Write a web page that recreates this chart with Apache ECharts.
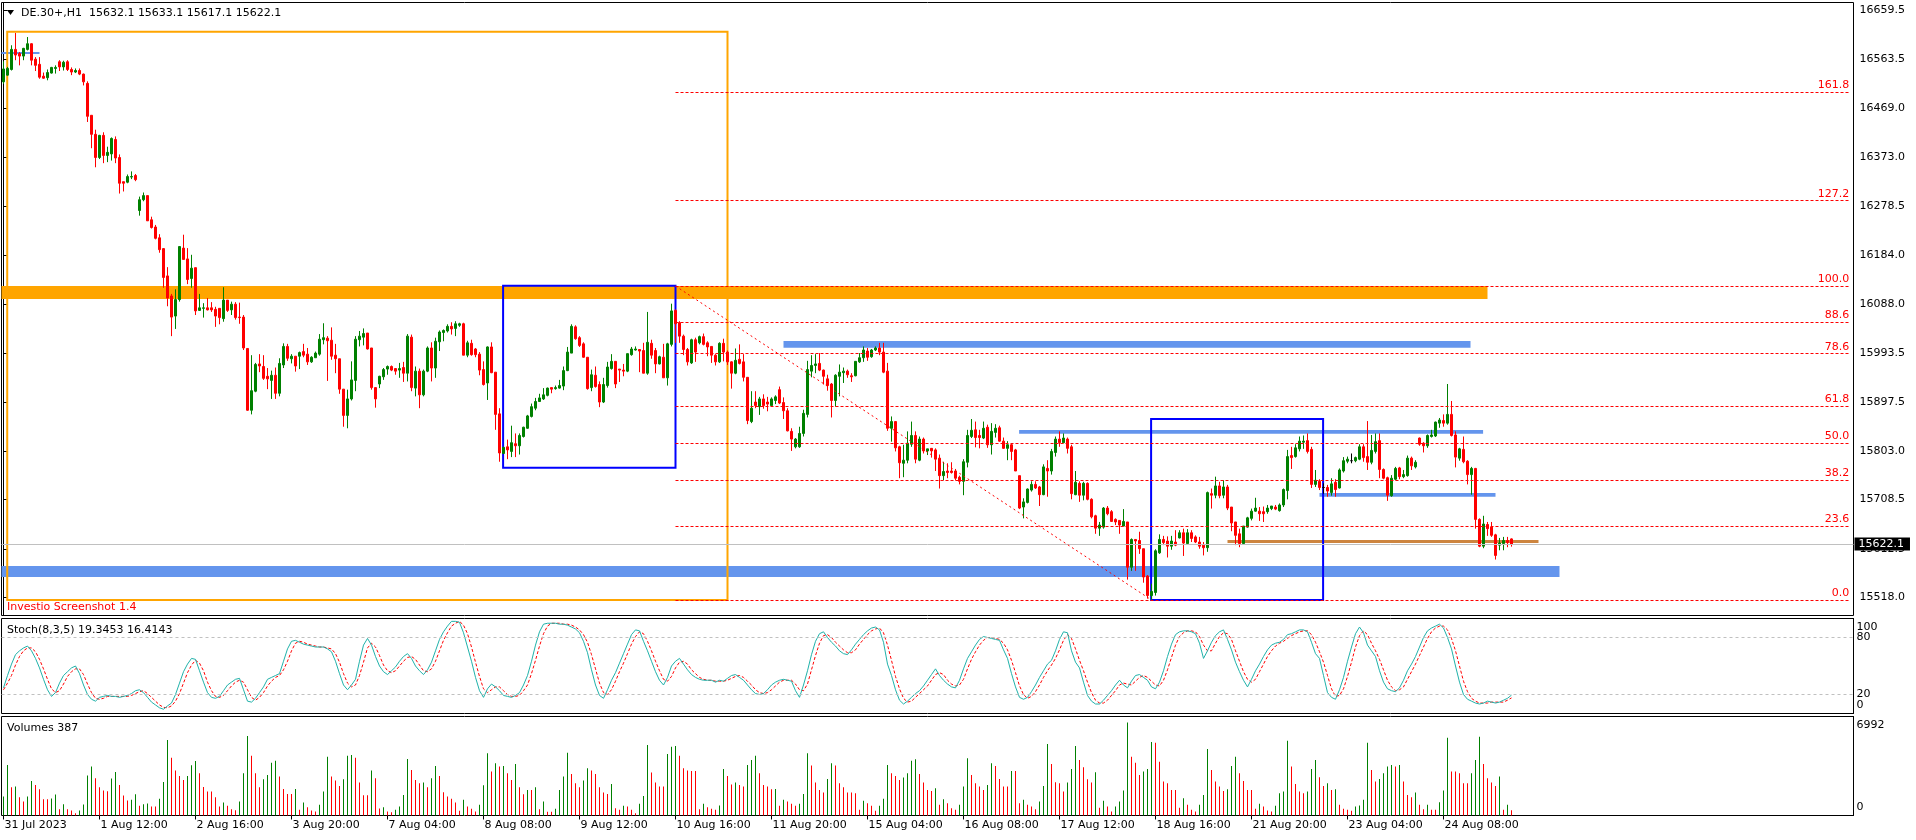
<!DOCTYPE html>
<html><head><meta charset="utf-8">
<script src="https://cdn.jsdelivr.net/npm/echarts@6/dist/echarts.min.js"></script>
<style>html,body{margin:0;padding:0;background:#fff}#c{width:1916px;height:840px}</style>
</head><body><div id="c"></div><script>
// ---- data: [open, close, low, high]
const candles = [
[16520,16545,16516,16560],[16533,16546,16532,16549],[16544,16583,16542,16591],[16583,16572,16562,16615],[16575,16570,16552,16578],
[16570,16585,16562,16586],[16583,16594,16581,16607],[16594,16562,16552,16595],[16564,16552,16541,16568],[16554,16529,16526,16568],
[16531,16527,16526,16538],[16528,16538,16523,16544],[16537,16548,16536,16549],[16546,16548,16536,16552],[16559,16549,16541,16562],
[16549,16558,16542,16561],[16559,16544,16541,16562],[16544,16539,16533,16548],[16539,16542,16537,16546],[16542,16535,16533,16546],
[16535,16520,16513,16536],[16517,16453,16442,16521],[16455,16418,16391,16455],[16418,16373,16354,16427],[16373,16416,16370,16417],
[16416,16377,16362,16422],[16377,16383,16364,16394],[16380,16410,16367,16412],[16408,16372,16362,16414],[16373,16323,16303,16379],
[16326,16323,16307,16326],[16325,16336,16323,16340],[16335,16336,16331,16346],[16338,16330,16327,16341],[16270,16291,16260,16297],
[16291,16299,16288,16305],[16299,16250,16250,16299],[16252,16237,16235,16258],[16238,16216,16214,16242],[16217,16194,16188,16224],
[16196,16140,16120,16197],[16143,16100,16084,16160],[16104,16063,16026,16108],[16065,16097,16040,16117],[16097,16200,16093,16201],
[16197,16175,16175,16223],[16176,16136,16127,16197],[16138,16158,16120,16184],[16159,16075,16067,16159],[16076,16081,16075,16108],
[16080,16081,16062,16090],[16081,16077,16076,16100],[16081,16077,16073,16092],[16078,16065,16044,16083],[16080,16062,16049,16080],
[16060,16096,16054,16121],[16096,16076,16073,16096],[16077,16088,16067,16093],[16088,16062,16058,16092],[16063,16062,16050,16091],
[16063,16003,15999,16067],[16002,15882,15881,16002],[15882,15920,15874,15989],[15919,15971,15917,15974],[15972,15968,15956,15991],
[15967,15944,15941,15989],[15948,15943,15923,15964],[15940,15950,15904,15959],[15950,15915,15904,15965],[15915,15973,15909,15983],
[15970,16006,15964,16012],[16006,15983,15978,16011],[15982,15987,15973,15991],[15987,15968,15957,15987],[15987,15994,15962,15996],
[15996,15989,15985,16011],[15991,15976,15970,16003],[15976,15985,15974,15987],[15984,15993,15984,15996],[15991,16020,15988,16030],
[16019,16023,16010,16051],[16022,16017,15939,16026],[16018,15987,15980,16043],[15989,15982,15954,16011],[15982,15923,15914,15982],
[15923,15872,15850,15923],[15872,15904,15847,15922],[15904,15941,15901,15977],[15940,16020,15919,16026],[16019,16026,16006,16036],
[16024,16031,16008,16041],[16032,16001,16000,16032],[16003,15926,15922,16003],[15926,15904,15887,15926],[15933,15948,15925,15949],
[15947,15961,15941,15964],[15962,15967,15951,15969],[15967,15960,15958,15969],[15963,15958,15951,15964],[15960,15963,15945,15974],
[15965,15954,15937,15976],[15954,16026,15938,16030],[16024,15926,15919,16029],[15925,15958,15909,15967],[15958,15912,15886,15963],
[15912,15958,15909,15961],[15958,16003,15956,16006],[16003,15964,15938,16014],[15964,16016,15945,16023],[16015,16034,15997,16037],
[16033,16037,16016,16039],[16036,16045,16033,16049],[16045,16040,16029,16053],[16041,16050,16026,16055],[16047,16050,16044,16052],
[16050,15989,15989,16052],[15989,16013,15985,16017],[16012,15990,15988,16019],[16001,15990,15985,16003],[15991,15960,15950,15995],
[15961,15932,15930,15977],[15935,16005,15902,16006],[16005,15955,15954,16014],[15956,15874,15844,15956],[15875,15799,15782,15886],
[15798,15810,15797,15811],[15811,15805,15787,15825],[15802,15819,15791,15852],[15817,15813,15791,15837],[15813,15833,15796,15837],
[15831,15849,15829,15850],[15847,15871,15846,15873],[15870,15889,15868,15895],[15886,15899,15882,15906],[15899,15906,15898,15914],
[15904,15912,15902,15925],[15911,15925,15909,15926],[15926,15923,15915,15926],[15924,15926,15922,15930],[15925,15930,15924,15941],
[15929,15959,15921,15967],[15959,15995,15958,16005],[15993,16045,15993,16049],[16044,16021,16019,16047],[16023,16008,16005,16026],
[16011,15985,15984,16014],[15985,15924,15922,15985],[15926,15951,15919,15961],[15950,15928,15926,15967],[15932,15898,15888,15938],
[15898,15932,15896,15945],[15930,15966,15926,15976],[15963,15977,15961,15991],[15977,15933,15925,15977],[15962,15960,15937,15962],
[15960,15958,15948,15972],[15958,15992,15956,15992],[15990,16001,15988,16005],[15999,16001,15998,16006],[16000,15997,15956,16000],
[15998,15954,15954,16013],[15954,16014,15951,16073],[16012,15989,15982,16019],[15998,15972,15954,16003],[15972,15986,15971,15988],
[15985,15945,15945,16011],[15945,16011,15930,16013],[16010,16075,16006,16089],[16076,16050,16013,16078],[16052,16026,16013,16055],
[16026,16000,15989,16029],[16000,15976,15969,16003],[15974,16019,15972,16021],[16019,15995,15976,16023],[16013,16025,16010,16027],
[16025,16010,16008,16031],[16013,16005,15987,16016],[16006,15989,15974,16006],[15989,15976,15969,15991],[15976,16012,15974,16014],
[16012,15995,15977,16021],[15995,15976,15970,15998],[15976,15954,15924,15977],[15954,15979,15952,16002],[15981,15973,15971,16010],
[15976,15946,15938,15991],[15946,15862,15855,15946],[15860,15886,15857,15919],[15898,15891,15886,15919],[15889,15904,15873,15908],
[15904,15891,15885,15913],[15898,15894,15880,15908],[15891,15904,15891,15907],[15901,15908,15894,15911],[15922,15896,15894,15928],
[15897,15881,15865,15907],[15881,15842,15841,15886],[15841,15826,15803,15847],[15811,15826,15808,15828],[15811,15837,15809,15850],
[15837,15876,15831,15883],[15874,15961,15868,15978],[15958,15969,15946,15989],[15969,15972,15954,15991],[15973,15960,15958,15993],
[15960,15948,15932,15961],[15943,15930,15920,15951],[15933,15901,15868,15935],[15901,15950,15889,15952],[15948,15956,15909,15971],
[15955,15958,15935,15965],[15958,15951,15945,15961],[15949,15947,15937,15954],[15949,15977,15948,15977],[15976,15984,15974,15993],
[15984,15999,15976,16006],[15997,15985,15978,16003],[15986,15999,15984,16001],[15999,16003,15997,16006],[16003,15995,15989,16013],
[15995,15956,15954,16013],[15958,15847,15842,15974],[15847,15860,15821,15870],[15860,15809,15802,15861],[15811,15780,15750,15813],
[15779,15785,15752,15815],[15785,15818,15779,15841],[15816,15833,15811,15860],[15833,15787,15779,15841],[15785,15826,15783,15831],
[15826,15803,15798,15829],[15803,15807,15795,15807],[15808,15803,15790,15808],[15805,15787,15764,15808],[15789,15755,15730,15796],
[15755,15763,15746,15782],[15764,15761,15750,15779],[15764,15761,15759,15781],[15764,15750,15746,15768],[15752,15744,15738,15755],
[15744,15782,15717,15787],[15781,15833,15771,15844],[15831,15843,15828,15865],[15844,15829,15810,15860],[15833,15829,15808,15844],
[15828,15847,15826,15860],[15849,15815,15809,15854],[15815,15841,15796,15857],[15839,15847,15829,15855],[15848,15822,15821,15852],
[15822,15808,15807,15829],[15808,15815,15785,15822],[15815,15802,15785,15818],[15805,15764,15764,15807],[15755,15692,15690,15755],
[15694,15704,15672,15711],[15703,15729,15701,15730],[15727,15738,15724,15744],[15738,15731,15729,15744],[15733,15718,15696,15735],
[15718,15772,15717,15777],[15769,15764,15714,15785],[15764,15802,15757,15807],[15800,15826,15792,15831],[15826,15819,15811,15841],
[15819,15828,15818,15837],[15826,15808,15798,15829],[15811,15720,15709,15815],[15718,15742,15717,15764],[15740,15717,15704,15744],
[15717,15740,15707,15743],[15740,15709,15707,15742],[15709,15675,15672,15711],[15677,15653,15642,15679],[15653,15659,15638,15665],
[15655,15692,15652,15694],[15692,15681,15678,15696],[15685,15666,15665,15688],[15670,15665,15659,15672],[15668,15659,15642,15668],
[15657,15666,15657,15690],[15665,15577,15553,15665],[15577,15631,15570,15633],[15631,15628,15570,15631],[15629,15613,15603,15646],
[15613,15558,15547,15613],[15560,15522,15516,15562],[15522,15530,15513.4,15545],[15528,15609,15522,15612],[15605,15631,15603,15641],
[15631,15625,15620,15638],[15628,15618,15596,15637],[15618,15628,15611,15638],[15626,15620,15618,15649],[15634,15644,15633,15649],
[15644,15624,15599,15652],[15623,15644,15621,15651],[15644,15633,15626,15649],[15636,15626,15624,15639],[15626,15618,15613,15636],
[15620,15615,15600,15626],[15615,15722,15607,15724],[15720,15717,15691,15730],[15717,15735,15711,15753],[15735,15716,15711,15743],
[15717,15733,15711,15746],[15733,15692,15688,15737],[15694,15663,15647,15694],[15665,15639,15620,15665],[15642,15623,15616,15652],
[15623,15657,15621,15657],[15655,15673,15654,15675],[15672,15686,15668,15691],[15686,15692,15685,15712],[15686,15681,15667,15694],
[15685,15681,15665,15695],[15685,15692,15681,15698],[15691,15696,15688,15696],[15694,15690,15688,15698],[15687,15698,15685,15701],
[15698,15728,15694,15730],[15726,15792,15709,15805],[15794,15790,15768,15811],[15792,15809,15790,15816],[15807,15822,15802,15831],
[15820,15822,15807,15833],[15823,15802,15798,15837],[15806,15738,15731,15811],[15738,15746,15733,15766],[15744,15732,15727,15748],
[15732,15732,15720,15740],[15732,15725,15714,15737],[15722,15739,15716,15750],[15742,15728,15714,15748],[15731,15766,15730,15769],
[15764,15784,15761,15791],[15783,15787,15779,15792],[15784,15784,15779,15798],[15784,15790,15781,15792],[15787,15811,15785,15816],
[15811,15790,15782,15816],[15792,15781,15766,15861],[15781,15804,15777,15834],[15802,15821,15798,15837],[15823,15767,15750,15837],
[15767,15750,15748,15769],[15751,15717,15706,15753],[15716,15750,15714,15756],[15748,15769,15746,15772],[15770,15753,15748,15772],
[15753,15757,15750,15766],[15755,15789,15753,15794],[15789,15774,15766,15792],[15772,15781,15769,15785],[15828,15816,15813,15829],
[15818,15813,15800,15820],[15813,15833,15809,15835],[15831,15834,15829,15844],[15832,15859,15830,15860],[15857,15863,15848,15867],
[15862,15857,15850,15874],[15857,15874,15854,15933],[15874,15833,15831,15900],[15834,15791,15771,15841],[15789,15807,15784,15809],
[15806,15782,15779,15831],[15783,15757,15738,15785],[15757,15769,15718,15772],[15769,15670,15652,15770],[15670,15618,15616,15672],
[15618,15661,15614,15677],[15660,15652,15638,15665],[15655,15639,15636,15665],[15640,15600,15592,15642],[15620,15624,15610,15634],
[15623,15629,15610,15636],[15629,15625,15616,15636],[15632.1,15622.1,15617.1,15633.1]
];
const stochMain = [
27,40,52,62,66,69,71,66,58,48, 36,25,18,22,32,40,44,48,50,42, 30,20,15,13,17,18,19,18,18,17, 18,19,21,24,25,22,17,12,9,6,
4.5,8,11,20,32,44,52,58,57,45, 33,22,17,16,18,24,30,33,36,37, 25,13,12,16,22,28,36,38,40,42, 55,68,76,77,75,73,72,71,70,70,
70,68,65,55,42,30,25,30,36,55, 72,79,72,60,50,44,41,45,49,55, 60,63,58,50,45,41,46,54,66,78, 86,92,97,97,96,85,70,55,38,24,
17,26,31,28,24,19,18,17,19,22, 30,40,55,72,86,94,95,95,95,94, 94,93,91,89,85,76,64,46,30,19, 16,25,35,43,53,63,73,83,88,87,
76,66,55,44,35,30,38,50,55,58, 52,46,41,38,36,35,35,35,33,35, 34,37,40,41,38,35,30,25,21,20, 21,25,30,33,35,36,35,34,24,17,
30,45,62,76,84,86,80,75,71,66, 63,62,67,73,78,83,87,90,91,88, 75,52,40,25,14,10,13,17,21,24, 29,35,41,47,40,35,31,28,27,35,
47,58,65,72,78,81,80,79,78,77, 67,58,42,28,17,15,17,23,30,38, 45,52,56,66,78,86,85,66,54,48, 33,19,13,10,10,14,19,24,30,35,
30,27,34,40,41,38,35,28,26,33, 45,60,73,83,86,87,87,86,84,74, 58,66,75,82,86,88,78,67,54,44, 35,28,36,45,52,60,67,72,74,75,
78,83,84,86,88,88,86,75,63,58, 40,22,17,15,25,38,55,70,84,91, 85,72,66,60,45,33,26,24,23,27, 35,45,52,60,70,80,87,90,92,94,
90,80,68,50,33,20,15,13,11,10, 11,13,12,11,12,14,16,19.3453
];
const stochSignal = [
25,32,40,51,60,66,69,69,65,57, 47,36,26,22,24,31,39,44,47,47, 41,31,22,16,15,16,18,18,18,18, 18,18,19,21,23,24,21,17,13,9,
6.5,6,8,13,21,32,43,51,56,53, 45,33,24,18,17,19,24,29,33,35, 33,25,17,14,17,22,29,34,38,40, 46,55,66,74,76,75,73,72,71,70,
70,69,68,63,54,42,32,28,30,40, 54,69,74,70,61,51,45,43,45,50, 55,59,60,57,51,45,44,47,55,66, 77,85,92,95,97,93,84,70,54,39,
26,22,25,28,28,24,20,18,18,19, 24,30,42,56,71,84,92,95,95,95, 94,94,93,91,88,83,75,62,47,32, 22,20,25,34,44,53,63,73,81,86,
84,76,66,55,45,36,34,39,48,54, 55,52,46,42,38,36,35,35,34,34, 34,35,37,39,40,38,34,30,25,22, 21,22,25,29,33,35,35,35,31,25,
24,31,46,61,74,82,83,80,75,71, 67,64,64,67,73,78,83,87,89,90, 85,72,56,39,26,16,12,13,17,21, 25,29,35,41,43,41,35,31,29,30,
36,47,57,65,72,77,80,80,79,78, 74,67,56,43,29,20,16,18,23,30, 38,45,51,58,67,77,83,79,68,56, 45,33,22,14,11,11,14,19,24,30,
32,31,30,34,38,40,38,34,30,29, 35,46,59,72,81,85,87,87,86,81, 72,66,66,74,81,85,84,78,66,55, 44,36,33,36,44,52,60,66,71,74,
76,79,82,84,86,87,87,83,75,65, 54,40,26,18,19,26,39,54,70,82, 87,83,74,66,57,46,35,28,24,25, 28,36,44,52,61,70,79,86,90,92,
92,88,79,66,50,34,23,16,13,11, 11,11,12,12,12,12,14,16.4143
];
const volumes = [
1425,3800,2125,2175,1375,1050,1425,2600,2300,1975, 1225,1225,1275,1575,475,850,475,375,175,375,
825,3000,3675,2800,2125,1875,1825,2775,3275,2300, 1500,1125,1175,1600,725,850,900,675,675,1250,
2525,5675,4350,3375,2975,2675,2975,3775,4100,3175, 2150,1800,1800,1375,675,975,725,475,400,1050,
3175,5975,4500,3175,2125,2725,3050,3975,4125,2925, 2000,1625,1625,2000,425,975,625,375,300,800,
1800,4425,2925,2625,2225,2725,4500,4550,4350,2475, 1525,1525,3375,2800,525,625,300,250,425,675,
1550,4250,3425,2675,2425,2475,2125,2800,3725,2975, 1750,1425,1250,975,350,1175,675,500,300,800,
2275,4675,3300,3925,3675,3725,3175,2675,3875,2125, 1600,1925,1925,2125,475,1050,275,275,500,1925,
2925,4725,3125,2425,2125,2625,3550,3375,3125,2125, 1725,1625,2375,550,425,725,675,425,175,875,
1475,5300,3225,2475,2175,2175,4625,5175,5225,4500, 3550,3375,3350,3350,475,875,625,500,425,750,
3500,2975,2325,2475,2300,2175,3800,4175,4500,3175, 2300,2175,1975,2000,725,1175,1050,875,725,875,
1625,4675,3750,2475,1925,1725,2750,3925,3750,2425, 2125,1725,1725,1675,425,1100,925,725,350,725,
1250,3800,3175,2975,2675,2850,3175,4125,4225,3125, 2475,1925,1850,2050,800,1225,925,550,425,800,
2175,4300,3050,2425,2175,1925,2300,3925,3725,2750, 2175,2175,3350,3350,925,1175,800,675,475,1050,
2225,5375,3875,2500,2425,1800,2475,3500,5225,4175, 3625,2725,2475,3250,575,1100,675,300,675,1050,
1875,6992,4425,3975,3050,3300,3500,5525,5475,4050, 2550,2425,1925,1925,575,1300,800,425,300,800,
1550,5000,3425,2550,2175,1850,1975,3725,4425,3175, 2600,1925,1925,500,875,675,375,300,725,1675,
1800,5625,3675,2375,1800,1675,1800,3500,4175,2875, 2225,2425,1925,1975,800,500,425,350,675,750,
1175,5475,3425,2550,2750,3175,3675,3800,3675,3800, 2550,1550,1375,1725,800,475,800,425,425,1000,
1875,5850,3300,3300,3175,2425,2425,3175,4175,5925, 3875,2800,2475,2225,2925,425,800,387
];
const xLabels = ["31 Jul 2023","1 Aug 12:00","2 Aug 16:00","3 Aug 20:00","7 Aug 04:00","8 Aug 08:00","9 Aug 12:00","10 Aug 16:00","11 Aug 20:00","15 Aug 04:00","16 Aug 08:00","17 Aug 12:00","18 Aug 16:00","21 Aug 20:00","23 Aug 04:00","24 Aug 08:00"];
const priceTicks = [16659.5,16563.5,16469.0,16373.0,16278.5,16184.0,16088.0,15993.5,15897.5,15803.0,15708.5,15612.5,15518.0];
const stochLevels = [20, 80];
const stochEnds = [0, 100];
const volumeMax = 6992;
const lastPrice = 15622.1;
const fibRatios = [0,23.6,38.2,50,61.8,78.6,88.6,100,127.2,161.8];
const fibLow = 15513.4, fibHigh = 16123.4;

// ---- drawn objects (bar index, price)
const filledBands = [
  [-0.5, 371, 16123.4, 16098.1, '#FFA500'],
  [195, 366.75, 16016.5, 16003.5, '#6495ED'],
  [253.9, 369.9, 15843.7, 15836.5, '#6495ED'],
  [329, 373, 15721.3, 15714.1, '#6495ED'],
  [306, 383.75, 15629.9, 15624.1, '#CD853F'],
  [-0.5, 389, 15579.4, 15558.0, '#6495ED'],
  [-0.5, 9, 16578, 16574, '#6495ED']
];
const boxes = [
  [0.93, 181, 16617.3, 15513.4, '#FFA500'],
  [124.9, 168, 16124, 15770.4, '#0000FF'],
  [286.9, 329.9, 15865, 15513.4, '#0000FF']
];
const fibStart = 168, fibEnd = 461.7;
const trend = [[168, 16123.4], [287, 15513.4]];

const N = 463;
const cats = Array.from({length: N}, (_, i) => i);
const FONT = 'DejaVu Sans';
const GREEN = '#008000', RED = '#FF0000';
const labelShown = i => i % 24 === 0 && i / 24 < xLabels.length;
const VOL_TOP = 7443;

const chart = echarts.init(document.getElementById('c'), null, {renderer: 'canvas', width: 1916, height: 840});

const fibPrice = r => fibLow + (fibHigh - fibLow) * r / 100;
const fibLines = fibRatios.map(r => [
  {coord: [fibStart, fibPrice(r)], label: {show: true, formatter: r.toFixed(1)}},
  {coord: [fibEnd, fibPrice(r)]}
]);

const txt = {fontFamily: FONT, fontSize: 11, color: '#000'};
const edgeRich = {
  t: {padding: [17, 0, 0, 0], fontFamily: FONT, fontSize: 11, color: '#000'},
  b: {padding: [0, 0, 16, 0], fontFamily: FONT, fontSize: 11, color: '#000'}
};

chart.setOption({
  animation: false,
  backgroundColor: '#fff',
  grid: [
    {left: 1.5, top: 2.5, width: 1852, height: 613, show: true, borderColor: '#000', borderWidth: 1},
    {left: 1.5, top: 618.5, width: 1852, height: 95, show: true, borderColor: '#000', borderWidth: 1},
    {left: 1.5, top: 716.5, width: 1852, height: 99, show: true, borderColor: '#000', borderWidth: 1}
  ],
  xAxis: [
    {type: 'category', gridIndex: 0, data: cats, show: false},
    {type: 'category', gridIndex: 1, data: cats, show: false},
    {type: 'category', gridIndex: 2, data: cats,
      axisLine: {show: false},
      axisTick: {show: true, alignWithLabel: true, interval: labelShown, length: 4, lineStyle: {color: '#000'}},
      axisLabel: Object.assign({interval: labelShown, formatter: (v, i) => xLabels[i / 24] || '', align: 'left', margin: 4, padding: [0, 0, 0, 1]}, txt),
      splitLine: {show: false}},
    {type: 'value', gridIndex: 0, min: -0.5, max: N - 0.5, show: false}
  ],
  yAxis: [
    {type: 'value', gridIndex: 0, position: 'right', min: 15483.3, max: 16674.1,
      axisLine: {show: true, lineStyle: {color: '#000'}},
      axisTick: {show: true, customValues: priceTicks, length: 4, lineStyle: {color: '#000'}},
      axisLabel: Object.assign({customValues: priceTicks, formatter: v => v.toFixed(1), margin: 6, showMinLabel: true, showMaxLabel: true, hideOverlap: false}, txt),
      splitLine: {show: false}},
    {type: 'value', gridIndex: 1, position: 'right', min: 0, max: 100,
      axisLine: {show: true, lineStyle: {color: '#000'}},
      axisTick: {show: false},
      axisLabel: Object.assign({customValues: stochLevels, margin: 3, hideOverlap: false}, txt),
      splitLine: {show: false}},
    {type: 'value', gridIndex: 2, position: 'right', min: 0, max: VOL_TOP,
      axisLine: {show: true, lineStyle: {color: '#000'}},
      axisTick: {show: false},
      axisLabel: Object.assign({customValues: [0, VOL_TOP], margin: 3, showMinLabel: true, showMaxLabel: true, hideOverlap: false,
        formatter: v => v === 0 ? '{b|0}' : '{t|' + volumeMax + '}', rich: edgeRich}, txt),
      splitLine: {show: false}},
    {type: 'value', gridIndex: 1, position: 'right', min: 0, max: 100,
      axisLine: {show: false}, axisTick: {show: false},
      axisLabel: Object.assign({customValues: stochEnds, margin: 3, showMinLabel: true, showMaxLabel: true, hideOverlap: false,
        formatter: v => v === 100 ? '{t|100}' : '{b|0}', rich: edgeRich}, txt),
      splitLine: {show: false}}
  ],
  series: [
    {
      type: 'line', xAxisIndex: 3, yAxisIndex: 0, z: 1, silent: true,
      data: [[-20, lastPrice]], symbol: 'none', lineStyle: {width: 0},
      markArea: {silent: true, label: {show: false},
        data: filledBands.map(b => [{coord: [b[0], b[2]], itemStyle: {color: b[4], opacity: 1, borderWidth: 0}}, {coord: [b[1], b[3]]}])},
      markLine: {silent: true, symbol: ['none', 'none'], animation: false,
        lineStyle: {color: '#C0C0C0', type: 'solid', width: 1},
        label: {show: true, position: 'end', distance: 1, formatter: lastPrice.toFixed(1), backgroundColor: '#000', color: '#fff', padding: [1, 6, 0, 4], lineHeight: 12, fontFamily: FONT, fontSize: 11},
        data: [{yAxis: lastPrice}]}
    },
    {
      type: 'candlestick', xAxisIndex: 0, yAxisIndex: 0, z: 2, barWidth: 2,
      data: candles,
      itemStyle: {color: GREEN, color0: RED, borderColor: GREEN, borderColor0: RED, borderColorDoji: '#000', borderWidth: 1}
    },
    {
      type: 'line', xAxisIndex: 3, yAxisIndex: 0, z: 3, silent: true,
      data: [[-20, lastPrice]], symbol: 'none', lineStyle: {width: 0},
      markArea: {silent: true, label: {show: false},
        data: boxes.map(b => [{coord: [b[0], b[2]], itemStyle: {color: 'rgba(0,0,0,0)', borderColor: b[4], borderWidth: 2}}, {coord: [b[1], b[3]]}])},
      markLine: {silent: true, symbol: ['none', 'none'], animation: false,
        lineStyle: {color: '#FF0000', type: [3, 2], width: 1},
        label: {show: false, position: 'insideEndTop', distance: 1, color: '#FF0000', fontFamily: FONT, fontSize: 11},
        data: fibLines.concat([[
          {coord: trend[0], lineStyle: {type: [2, 3]}, label: {show: false}},
          {coord: trend[1]}
        ]])}
    },
    {
      type: 'line', xAxisIndex: 1, yAxisIndex: 1, data: stochMain, symbol: 'none', z: 3,
      lineStyle: {color: '#20B2AA', width: 1}, itemStyle: {color: '#20B2AA'},
      markLine: {silent: true, symbol: ['none', 'none'], animation: false, label: {show: false},
        lineStyle: {color: '#C0C0C0', type: [3, 3], width: 1},
        data: stochLevels.map(v => ({yAxis: v}))}
    },
    {
      type: 'line', xAxisIndex: 1, yAxisIndex: 1, data: stochSignal, symbol: 'none', z: 2,
      lineStyle: {color: '#FF0000', width: 1, type: [3, 2]}, itemStyle: {color: '#FF0000'}
    },
    {
      type: 'bar', xAxisIndex: 2, yAxisIndex: 2, data: volumes, barWidth: 1,
      itemStyle: {color: p => (p.dataIndex === 0 || volumes[p.dataIndex] > volumes[p.dataIndex - 1]) ? GREEN : RED}
    }
  ],
  graphic: [
    {type: 'polygon', shape: {points: [[7, 10], [14, 10], [10.5, 15]]}, style: {fill: '#000'}},
    {type: 'text', x: 21, y: 13, style: {text: 'DE.30+,H1  15632.1 15633.1 15617.1 15622.1', fill: '#000', font: '11px "DejaVu Sans"', verticalAlign: 'middle', align: 'left'}},
    {type: 'text', x: 7, y: 607, style: {text: 'Investio Screenshot 1.4', fill: '#FF0000', font: '11px "DejaVu Sans"', verticalAlign: 'middle', align: 'left'}},
    {type: 'text', x: 7, y: 630, style: {text: 'Stoch(8,3,5) 19.3453 16.4143', fill: '#000', font: '11px "DejaVu Sans"', verticalAlign: 'middle', align: 'left'}},
    {type: 'text', x: 7, y: 728, style: {text: 'Volumes 387', fill: '#000', font: '11px "DejaVu Sans"', verticalAlign: 'middle', align: 'left'}}
  ]
});
</script></body></html>
